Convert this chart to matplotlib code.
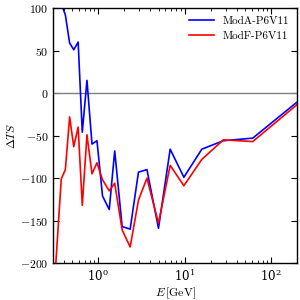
import numpy as np
import matplotlib
matplotlib.use('Agg')
from matplotlib import pyplot as plt
from matplotlib.ticker import FuncFormatter

plt.rcParams['mathtext.fontset'] = 'cm'
plt.rcParams['font.family'] = 'serif'
plt.rcParams['font.serif'] = ['DejaVu Serif']

# energy bins [GeV]
energy = [0.318, 0.373, 0.416, 0.466, 0.52, 0.585, 0.653, 0.74, 0.846, 0.966,
          1.12, 1.34, 1.55, 1.89, 2.34, 2.92, 3.66, 4.98, 6.8, 9.8,
          15.8, 28.1, 61.4, 198.0]
ts_modA = [140, 105, 92, 59, 51, 60, -46, 15, -60, -56,
           -121, -137, -68, -157, -160, -93, -90, -159, -66, -99,
           -66, -56, -53, -11]
ts_modF = [-210, -101, -90, -28, -63, -40, -132, -49, -95, -82,
           -102, -115, -106, -161, -181, -126, -100, -153, -85, -109,
           -78, -55, -57, -14]
labels = ['ModA-P6V11', 'ModF-P6V11']

fig = plt.figure(figsize=(3, 3), dpi=100)
ax = fig.add_axes([0.177, 0.123, 0.813, 0.85])
ax.axhline(0, color='gray', lw=1.0)
ax.plot(energy, ts_modA, color='b', lw=1.2, label=labels[0])
ax.plot(energy, ts_modF, color='r', lw=1.2, label=labels[1])
ax.set_xscale('log')
ax.set_xlim(0.3, 200)
ax.set_ylim(-200, 100)
ax.set_yticks([-200, -150, -100, -50, 0, 50, 100])
ax.yaxis.set_major_formatter(FuncFormatter(lambda v, p: '$%d$' % v))
ax.tick_params(which='both', direction='in', top=True, right=True, labelsize=8.5)
ax.tick_params(which='major', length=4, width=0.8)
ax.tick_params(which='minor', length=2, width=0.6)
for s in ax.spines.values():
    s.set_linewidth(1.0)
ax.set_xlabel(r'$E\,[\mathrm{GeV}]$', fontsize=8.5, labelpad=1)
ax.set_ylabel(r'$\Delta TS$', fontsize=8.5, labelpad=1)
ax.legend(loc='upper right', frameon=False, prop={'family': 'cmr10', 'size': 8},
          handlelength=2.2, borderaxespad=0.3)
fig.savefig('out.png', dpi=100)
